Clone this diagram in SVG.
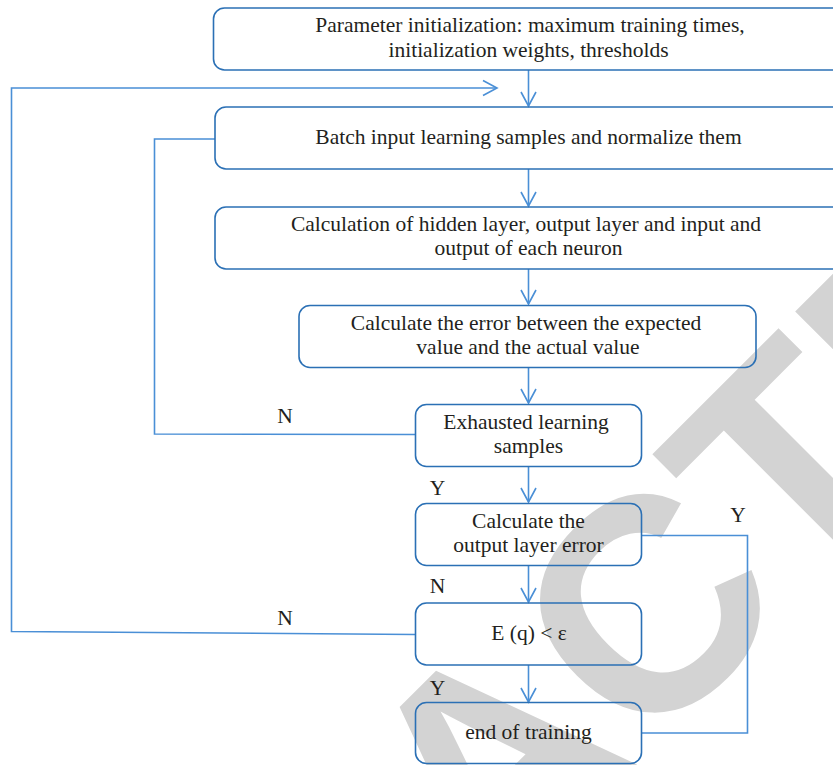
<svg xmlns="http://www.w3.org/2000/svg" width="833" height="765" viewBox="0 0 833 765">
<defs>
<style>
.box{fill:none;stroke:#2b70b5;stroke-width:1.6}
.ln{fill:none;stroke:#4a8fd6;stroke-width:1.6}
.t{font-family:"Liberation Serif","Times New Roman",serif;font-size:21.5px;fill:#231f20;text-anchor:middle}
.wm{font-family:"Liberation Sans",Arial,sans-serif;font-weight:bold;font-size:303px;fill:#d3d3d3}
</style>
<marker id="ah" markerWidth="20" markerHeight="20" refX="0" refY="0" viewBox="-16 -10 18 20" markerUnits="userSpaceOnUse" orient="auto">
<path d="M-14,-7.5 L0,0 L-14,7.5" fill="none" stroke="#4a8fd6" stroke-width="1.6"/>
</marker>
</defs>
<rect width="833" height="765" fill="#ffffff"/>
<text class="wm" transform="rotate(-45)" x="-301" y="991">ACTE</text>
<g id="connectors">
<line class="ln" x1="528.5" y1="70" x2="528.5" y2="106" marker-end="url(#ah)"/>
<line class="ln" x1="528.5" y1="169" x2="528.5" y2="206" marker-end="url(#ah)"/>
<line class="ln" x1="528.5" y1="269" x2="528.5" y2="304" marker-end="url(#ah)"/>
<line class="ln" x1="528.5" y1="367" x2="528.5" y2="403" marker-end="url(#ah)"/>
<line class="ln" x1="528.5" y1="466" x2="528.5" y2="502" marker-end="url(#ah)"/>
<line class="ln" x1="528.5" y1="565" x2="528.5" y2="602" marker-end="url(#ah)"/>
<line class="ln" x1="528.5" y1="665" x2="528.5" y2="702" marker-end="url(#ah)"/>
<polyline class="ln" points="415,434.5 154.5,434 154.5,139 215,139"/>
<polyline class="ln" points="415,634.5 11.5,631.5 11.5,88 497,88" marker-end="url(#ah)"/>
<polyline class="ln" points="642,535.5 747.5,535.5 747.5,733 642,733"/>
<text class="t" x="285" y="423">N</text>
<text class="t" x="437.5" y="495">Y</text>
<text class="t" x="738" y="522">Y</text>
<text class="t" x="437.5" y="593">N</text>
<text class="t" x="285" y="625">N</text>
<text class="t" x="437.5" y="695">Y</text>
</g>
<g id="n1">
<rect class="box" x="213.5" y="8" width="640" height="62" rx="11"/>
<text class="t" x="530" y="32">Parameter initialization: maximum training times,</text>
<text class="t" x="528.5" y="56.5">initialization weights, thresholds</text>
</g>
<g id="n2">
<rect class="box" x="215" y="107" width="640" height="62" rx="11"/>
<text class="t" x="528.5" y="143.5">Batch input learning samples and normalize them</text>
</g>
<g id="n3">
<rect class="box" x="215" y="207" width="640" height="62" rx="11"/>
<text class="t" x="526" y="230.5">Calculation of hidden layer, output layer and input and</text>
<text class="t" x="528.5" y="255">output of each neuron</text>
</g>
<g id="n4">
<rect class="box" x="299" y="305.5" width="457" height="62" rx="11"/>
<text class="t" x="526" y="329.5">Calculate the error between the expected</text>
<text class="t" x="528" y="354">value and the actual value</text>
</g>
<g id="n5">
<rect class="box" x="415.5" y="404.5" width="226" height="62" rx="11"/>
<text class="t" x="526" y="428.5">Exhausted learning</text>
<text class="t" x="528.5" y="453">samples</text>
</g>
<g id="n6">
<rect class="box" x="415.5" y="503.5" width="226" height="62" rx="11"/>
<text class="t" x="528.5" y="527.5">Calculate the</text>
<text class="t" x="528.5" y="552">output layer error</text>
</g>
<g id="n7">
<rect class="box" x="415.5" y="603" width="226" height="62" rx="11"/>
<text class="t" x="529" y="639.5">E (q) &lt; ε</text>
</g>
<g id="n8">
<rect class="box" x="415.5" y="702.5" width="226" height="61" rx="11"/>
<text class="t" x="528.5" y="738.5">end of training</text>
</g>
</svg>
